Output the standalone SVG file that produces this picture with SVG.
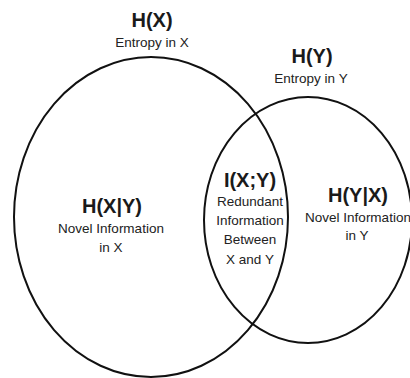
<svg xmlns="http://www.w3.org/2000/svg" width="410" height="378" viewBox="0 0 410 378">
<style>
.c{fill:none;stroke:#111;stroke-width:2}
.t{font-family:"Liberation Sans",Arial,sans-serif;font-weight:bold;font-size:20px;fill:#1a1a1a;text-anchor:middle}
.s{font-family:"Liberation Sans",Arial,sans-serif;font-size:13.5px;fill:#222;text-anchor:middle}
</style>
<rect width="410" height="378" fill="#fff"/>
<g id="setX">
<ellipse class="c" cx="151" cy="217" rx="137" ry="160"/>
<text class="t" x="152" y="27">H(X)</text>
<text class="s" x="152" y="47">Entropy in X</text>
</g>
<g id="setY">
<ellipse class="c" cx="308" cy="220" rx="104" ry="123"/>
<text class="t" x="312" y="63">H(Y)</text>
<text class="s" x="311" y="83">Entropy in Y</text>
</g>
<g id="novelX">
<text class="t" x="112" y="213">H(X|Y)</text>
<text class="s" x="111" y="233">Novel Information</text>
<text class="s" x="111" y="252">in X</text>
</g>
<g id="mutual">
<text class="t" x="250" y="187">I(X;Y)</text>
<text class="s" x="250" y="206">Redundant</text>
<text class="s" x="250" y="225">Information</text>
<text class="s" x="250" y="244">Between</text>
<text class="s" x="250" y="264">X and Y</text>
</g>
<g id="novelY">
<text class="t" x="358" y="202">H(Y|X)</text>
<text class="s" x="358" y="222">Novel Information</text>
<text class="s" x="357" y="240">in Y</text>
</g>
<g id="connectors"/>
</svg>
